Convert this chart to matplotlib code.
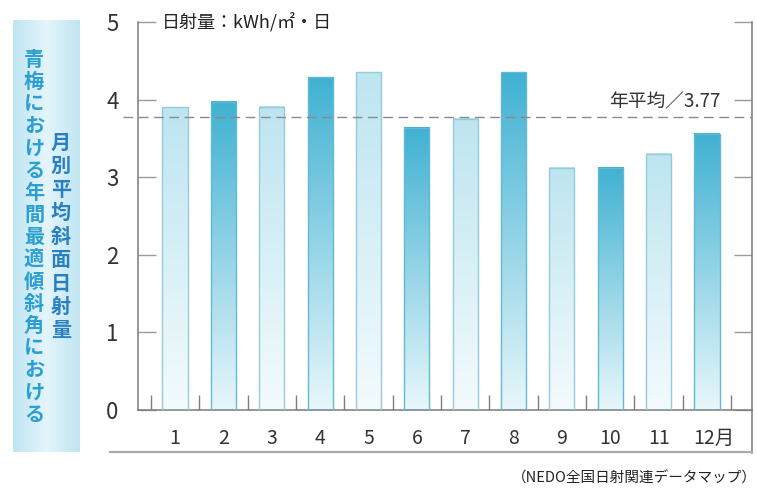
import numpy as np
import matplotlib
matplotlib.use('Agg')
import matplotlib.pyplot as plt
import matplotlib.transforms as mtransforms
from matplotlib.lines import Line2D
from matplotlib.patches import Rectangle
from matplotlib.colors import to_rgb

plt.rcParams['font.family'] = ['Noto Sans CJK JP', 'DejaVu Sans']

# monthly mean irradiation on the optimal tilt, kWh/m2/day
months = ['1', '2', '3', '4', '5', '6', '7', '8', '9', '10', '11', '12月']
values = [3.90, 3.97, 3.91, 4.29, 4.35, 3.64, 3.75, 4.35, 3.12, 3.12, 3.30, 3.56]
year_avg = 3.77
dark = [False, True] * 6  # alternating bar shading

W, H = 757, 488
fig = plt.figure(figsize=(W / 100, H / 100), dpi=100)


def fx(px):
    return px / W


def fy(py):
    return 1 - py / H


ax = fig.add_axes([fx(138), fy(410), fx(752) - fx(138), fy(22) - fy(410)])

# gradient bars
bw = 0.52
grad = np.linspace(0, 1, 200)
for i, v in enumerate(values):
    x = i + 1
    if dark[i]:
        top, bot, edge = to_rgb('#40b1d2'), to_rgb('#e8f7fb'), '#62b9d0'
    else:
        top, bot, edge = to_rgb('#bde5f0'), to_rgb('#f3fbfd'), '#98cbd8'
    img = np.zeros((200, 1, 3))
    for c in range(3):
        img[:, 0, c] = bot[c] + (top[c] - bot[c]) * grad
    ax.imshow(img, extent=(x - bw / 2, x + bw / 2, 0, v), origin='lower',
              aspect='auto', zorder=2, interpolation='bilinear')
    ax.add_patch(Rectangle((x - bw / 2, 0), bw, v, fill=False,
                           edgecolor=edge, lw=1.0, zorder=3))
ax.set_aspect('auto')
ax.set_xlim(0.235, 12.93)
ax.set_ylim(0, 5)

# yearly average line
ax.plot([-0.025, 1.0], [year_avg, year_avg], transform=ax.get_yaxis_transform(),
        color='#8a8a8a', lw=1.0, dashes=(7, 4), clip_on=False, zorder=4)
ax.text(11.13, year_avg + 0.2, '年平均／%.2f' % year_avg, ha='center', va='center',
        fontsize=13.5, color='#333333')

ax.spines['top'].set_visible(False)
for s in ['left', 'right', 'bottom']:
    ax.spines[s].set_color('#7a7a7a')
    ax.spines[s].set_linewidth(1.1)

ax.set_yticks(range(6))
ax.set_yticklabels([str(t) for t in range(6)], fontsize=16, color='#333333')
ax.tick_params(axis='y', direction='in', length=13, width=1.0, color='#9a9a9a',
               pad=14, right=True)
ax.set_xticks(range(1, 13))
ax.set_xticklabels(months, fontsize=14, color='#333333')
ax.set_xticks([i + 0.5 for i in range(0, 13)], minor=True)
ax.tick_params(axis='x', which='major', length=0, pad=13)
ax.tick_params(axis='x', which='minor', direction='in', length=11, width=1.0,
               color='#8a7a7a')
# nudge "12月" so the digits sit under the bar
last = ax.get_xticklabels()[-1]
last.set_transform(last.get_transform() +
                   mtransforms.ScaledTranslation(7 / 100, 0, fig.dpi_scale_trans))

ax.text(0.73, 5.0, '日射量：kWh/㎡・日', ha='left', va='center', fontsize=13,
        color='#222222')

# frame lines round the chart
fig.add_artist(Line2D([fx(752), fx(752)], [fy(410), fy(453)], transform=fig.transFigure,
                      color='#7a7a7a', lw=1.1))
fig.add_artist(Line2D([fx(110), fx(752)], [fy(452), fy(452)], transform=fig.transFigure,
                      color='#aaaaaa', lw=1.6))

# title box on the left
bax = fig.add_axes([fx(13), fy(452), fx(80) - fx(13), fy(20) - fy(452)])
c_edge, c_mid = np.array(to_rgb('#bfe5f2')), np.array(to_rgb('#e4f5fb'))
t = np.abs(np.linspace(-1, 1, 100))
box = np.array([c_mid + (c_edge - c_mid) * k for k in t]).reshape(1, -1, 3)
bax.imshow(box, aspect='auto', extent=(0, 1, 0, 1))
bax.set_axis_off()

title_a = '青梅における年間最適傾斜角における'
title_b = '月別平均斜面日射量'
for k, ch in enumerate(title_a):
    fig.text(fx(34), fy(59 + k * 22.2), ch, ha='center', va='center', fontsize=14.5,
             fontweight='bold', color='#2c9fd2')
for k, ch in enumerate(title_b):
    fig.text(fx(61), fy(142 + k * 23.5), ch, ha='center', va='center', fontsize=14.5,
             fontweight='bold', color='#2a7fbf')

fig.text(fx(757), fy(478), '（NEDO全国日射関連データマップ）', ha='right', va='center',
         fontsize=10.5, color='#222222')

plt.savefig('out.png', dpi=100)
